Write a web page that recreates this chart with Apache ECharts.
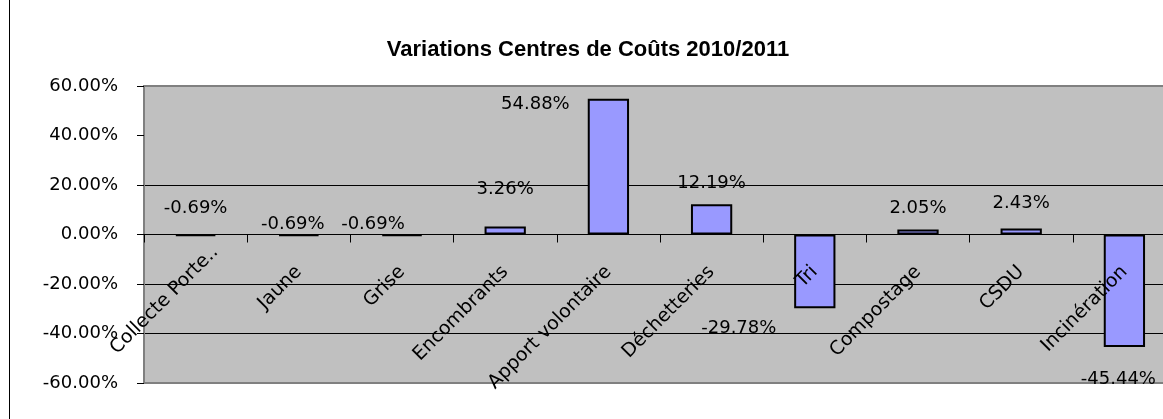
<!DOCTYPE html>
<html lang="fr">
<head>
<meta charset="UTF-8">
<title>Variations Centres de Coûts 2010/2011</title>
<script src="https://cdn.jsdelivr.net/npm/echarts@6/dist/echarts.min.js"></script>
<style>
  html, body { margin: 0; padding: 0; background: #fff; }
  #chart { width: 1163px; height: 419px; }
</style>
</head>
<body>
<div id="chart"></div>
<script>
// données
var categories = ['Collecte Porte..', 'Jaune', 'Grise', 'Encombrants', 'Apport volontaire',
                  'Déchetteries', 'Tri', 'Compostage', 'CSDU', 'Incinération'];
var variations = [-0.69, -0.69, -0.69, 3.26, 54.88, 12.19, -29.78, 2.05, 2.43, -45.44];
var yTicks = [-60, -40, -20, 0, 20, 40, 60];

// placement des étiquettes (comme dans l'original Excel)
var labelPos = [
  ['top', 0, -12], ['top', -6, 4], ['top', -29, 4], ['top', 0, -23], ['top', -73, 20],
  ['top', 0, -7], ['bottom', -76, 6], ['top', 0, -7], ['top', 0, -11], ['bottom', -6, 18]
];

var font = 'DejaVu Sans';

var chart = echarts.init(document.getElementById('chart'));

chart.setOption({
  backgroundColor: '#fff',
  animation: false,
  title: {
    text: 'Variations Centres de Coûts 2010/2011',
    left: 583,
    textAlign: 'center',
    top: 34,
    textStyle: { fontFamily: 'Liberation Sans', fontSize: 22, fontWeight: 'bold', color: '#000' }
  },
  graphic: [{
    type: 'line',
    shape: { x1: 9.5, y1: 0, x2: 9.5, y2: 419 },
    style: { stroke: '#000', lineWidth: 1 }
  }],
  grid: {
    left: 144, top: 86, bottom: 36, right: -13,
    containLabel: false,
    outerBoundsMode: 'none',
    show: true,
    backgroundColor: '#c0c0c0',
    borderColor: '#808080',
    borderWidth: 2
  },
  xAxis: {
    type: 'category',
    data: categories.map(function (c, i) {
      // la première étiquette est décalée vers le haut dans l'original
      return i === 0 ? { value: c, textStyle: { padding: [0, -28, 0, 0] } } : c;
    }),
    z: 10,
    axisLine: { onZero: true, lineStyle: { color: '#000', width: 1 } },
    axisTick: { show: true, length: 8, lineStyle: { color: '#000' } },
    axisLabel: {
      rotate: 45,
      margin: -114,
      interval: 0,
      fontFamily: font,
      fontSize: 19,
      color: '#000'
    },
    splitLine: { show: false }
  },
  yAxis: {
    type: 'value',
    min: yTicks[0],
    max: yTicks[yTicks.length - 1],
    interval: 20,
    axisLine: { show: true, lineStyle: { color: '#808080', width: 2 } },
    axisTick: { show: true, length: 7, lineStyle: { color: '#000' } },
    axisLabel: {
      margin: 26,
      fontFamily: font,
      fontSize: 18,
      color: '#000',
      formatter: function (v) { return v.toFixed(2) + '%'; }
    },
    splitLine: {
      show: true,
      lineStyle: { color: ['#808080', '#000', '#000', '#000', '#000', 'rgba(0,0,0,0)', '#808080'], width: 1 }
    }
  },
  series: [{
    type: 'bar',
    barWidth: '40%',
    itemStyle: { color: '#9999ff', borderColor: '#000', borderWidth: 2 },
    data: variations.map(function (v, i) {
      var p = labelPos[i];
      return {
        value: v,
        label: { position: p[0], offset: [p[1], p[2]] }
      };
    }),
    label: {
      show: true,
      distance: 5,
      fontFamily: font,
      fontSize: 18,
      color: '#000',
      formatter: function (p) { return p.value.toFixed(2) + '%'; }
    }
  }]
});
</script>
</body>
</html>
